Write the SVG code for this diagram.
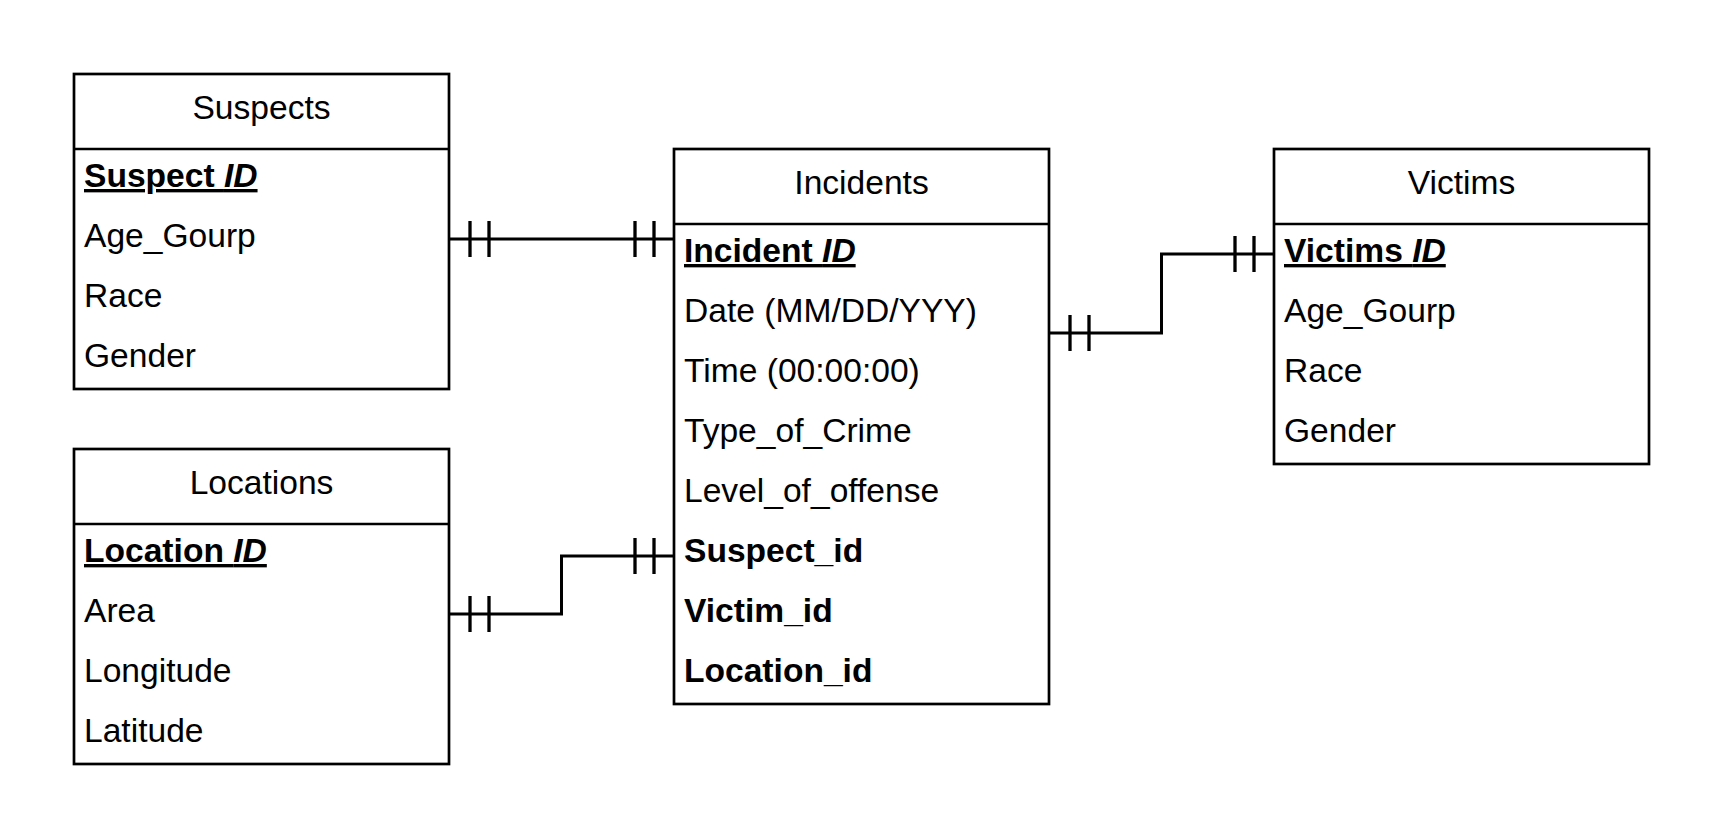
<svg xmlns="http://www.w3.org/2000/svg" width="1725" height="840" viewBox="0 0 1725 840">
<style>
.box{fill:#fff;stroke:#000;stroke-width:2.7}
.sep{stroke:#000;stroke-width:2.7}
text{font-family:"Liberation Sans",Arial,sans-serif;font-size:33.6px;fill:#000}
.title{text-anchor:middle}
.b{font-weight:bold}
.pk{font-weight:bold;text-decoration:underline}
.conn{fill:none;stroke:#000;stroke-width:3}
.tick{stroke:#000;stroke-width:3.3}
</style>
<rect width="1725" height="840" fill="#fff"/>
<g id="connectors">
  <path class="conn" d="M449 239 H674"/>
  <path class="tick" d="M470 221 V257 M489 221 V257 M635 221 V257 M654 221 V257"/>
  <path class="conn" d="M1049 333 H1161.5 V254 H1274"/>
  <path class="tick" d="M1070 315 V351 M1089 315 V351 M1235 236 V272 M1254 236 V272"/>
  <path class="conn" d="M449 614 H561.5 V556 H674"/>
  <path class="tick" d="M470 596 V632 M489 596 V632 M635 538 V574 M654 538 V574"/>
</g>
<g id="suspects">
  <rect class="box" x="74" y="74" width="375" height="315"/>
  <line class="sep" x1="74" y1="149" x2="449" y2="149"/>
  <text class="title" x="261.5" y="119">Suspects</text>
  <text class="pk" x="84" y="187">Suspect <tspan font-style="italic">ID</tspan></text>
  <text x="84" y="247">Age_Gourp</text>
  <text x="84" y="307">Race</text>
  <text x="84" y="367">Gender</text>
</g>
<g id="locations">
  <rect class="box" x="74" y="449" width="375" height="315"/>
  <line class="sep" x1="74" y1="524" x2="449" y2="524"/>
  <text class="title" x="261.5" y="494">Locations</text>
  <text class="pk" x="84" y="562">Location <tspan font-style="italic">ID</tspan></text>
  <text x="84" y="622">Area</text>
  <text x="84" y="682">Longitude</text>
  <text x="84" y="742">Latitude</text>
</g>
<g id="incidents">
  <rect class="box" x="674" y="149" width="375" height="555"/>
  <line class="sep" x1="674" y1="224" x2="1049" y2="224"/>
  <text class="title" x="861.5" y="194">Incidents</text>
  <text class="pk" x="684" y="262">Incident <tspan font-style="italic">ID</tspan></text>
  <text x="684" y="322">Date (MM/DD/YYY)</text>
  <text x="684" y="382">Time (00:00:00)</text>
  <text x="684" y="442">Type_of_Crime</text>
  <text x="684" y="502">Level_of_offense</text>
  <text class="b" x="684" y="562">Suspect_id</text>
  <text class="b" x="684" y="622">Victim_id</text>
  <text class="b" x="684" y="682">Location_id</text>
</g>
<g id="victims">
  <rect class="box" x="1274" y="149" width="375" height="315"/>
  <line class="sep" x1="1274" y1="224" x2="1649" y2="224"/>
  <text class="title" x="1461.5" y="194">Victims</text>
  <text class="pk" x="1284" y="262">Victims <tspan font-style="italic">ID</tspan></text>
  <text x="1284" y="322">Age_Gourp</text>
  <text x="1284" y="382">Race</text>
  <text x="1284" y="442">Gender</text>
</g>
</svg>
